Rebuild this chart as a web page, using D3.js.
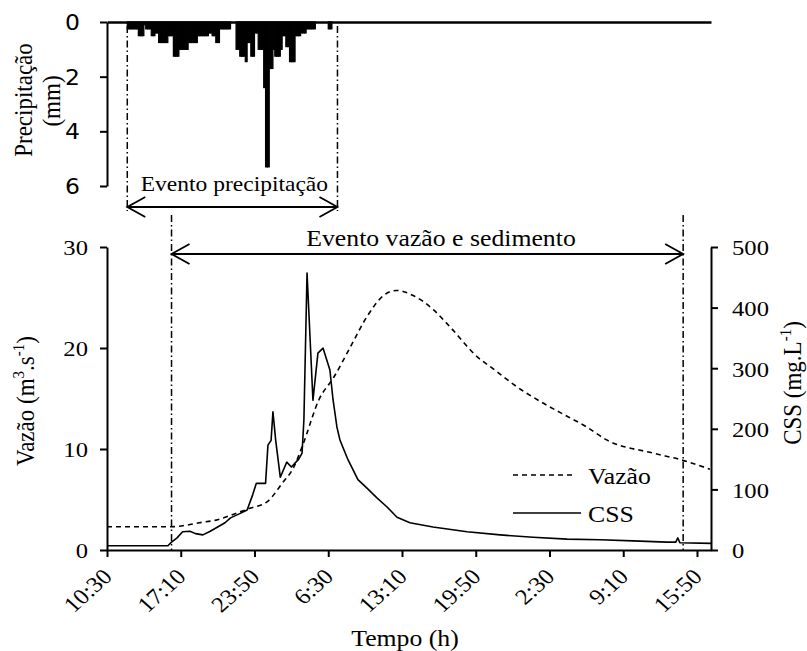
<!DOCTYPE html>
<html><head><meta charset="utf-8">
<script src="https://cdn.jsdelivr.net/npm/d3@7"></script>
<style>body{margin:0;background:#fff} svg{display:block}</style>
</head><body><svg id="c" width="807" height="651"></svg>
<script>
// ---- data (time = minutes elapsed since 10:30) ----
const tickMinutes = [0, 400, 800, 1200, 1600, 2000, 2400, 2800, 3200];
const tickLabels = ["10:30", "17:10", "23:50", "6:30", "13:10", "19:50", "2:30", "9:10", "15:50"];

const flowTime  = [0, 350, 410, 500, 600, 680, 770, 870, 950, 1010, 1060, 1150, 1230, 1320, 1410, 1500, 1570, 1660, 1770, 1860, 2010, 2090, 2220, 2370, 2500, 2600, 2710, 2960, 3120, 3270];
const flowValue = [2.3, 2.3, 2.4, 2.7, 3.0, 3.5, 4.1, 4.8, 6.6, 8.1, 10.3, 14.9, 17.1, 20.1, 23.1, 25.2, 25.7, 25.2, 23.8, 22.1, 19.1, 18.0, 16.2, 14.5, 13.2, 12.2, 10.9, 9.6, 8.9, 8.0];

const cssTime  = [0, 330, 350, 380, 410, 450, 480, 520, 560, 600, 640, 670, 720, 760, 790, 810, 860, 873, 890, 900, 915, 940, 975, 1000, 1040, 1058, 1068, 1085, 1117, 1144, 1172, 1209, 1226, 1247, 1264, 1307, 1361, 1410, 1464, 1519, 1573, 1643, 1768, 1953, 2132, 2311, 2495, 2674, 2853, 3037, 3085, 3096, 3107, 3276];
const cssValue = [7, 7, 13, 20, 30, 31, 27, 25, 31, 38, 45, 53, 60, 66, 91, 110, 110, 173, 181, 228, 181, 120, 145, 137, 150, 160, 215, 457, 247, 325, 333, 297, 248, 203, 181, 149, 116, 102, 86, 71, 54, 45, 38, 30, 25, 21, 18, 17, 15, 13, 13, 20, 12, 11];

const rainStart = 110;   // first 10-min bin
const rainStep = 10;
const rainValue = [
  0.25,0.25,0.25,0.25,0.25,0.25, 0.5,0.5,0.5, 0.1, 0.25,0.25,0.25, 0.5,0.5, 0.4,0.4,
  0.75,0.75,0.75,0.75,0.75, 0.5,0.5,0.5, 1.25,1.25,1.25, 1.0,1.0,1.0,1.0,1.0,
  0.75,0.75,0.75,0.75,0.75, 0.5,0.5,0.5,0.5,0.5,0.5, 0.4,0.4, 0.5,0.5, 0.75,0.75,
  0.25,0.25,0.25,0.25,0.25,0.25, 0,0,0, 1.0,1.0, 1.25,1.25,1.25, 1.45, 0.75,0.75,
  1.25,1.25, 0.4,0.4, 1.0,1.0,1.0, 2.4, 5.3,5.3, 1.7,1.7, 1.0, 1.25,1.25,1.25, 1.0,
  0.5,0.5, 0.9,0.9, 1.45,1.45,1.45, 0.5,0.5,0.5, 0.4,0.4,0.4, 0.25,0.25,0.25,0.25,0.25,
  0,0,0,0,0,0,0, 0.25,0.25, 0
];
const rainEvent = [110, 1250];
const flowEvent = [350, 3125];
const flowTicks = [0, 10, 20, 30];
const cssTicks = [0, 100, 200, 300, 400, 500];
const rainTicks = [0, 2, 4, 6];

// ---- setup ----
const SX = 1.12;
const serif = "'Liberation Serif','Times New Roman',serif";
const sans = "'DejaVu Sans','Liberation Sans',sans-serif";
const svg = d3.select("#c");

const x = d3.scaleLinear().domain([0, 3276]).range([107, 711]);
const yL = d3.scaleLinear().domain([0, 30]).range([550, 247]);
const yR = d3.scaleLinear().domain([0, 500]).range([550, 247]);
const yP = d3.scaleLinear().domain([0, 6]).range([22, 186]);

function addText(parent, px, py, rot, str, size, anchor, family) {
  return parent.append("text")
    .attr("transform", `translate(${px},${py}) scale(${SX},1) rotate(${rot})`)
    .attr("text-anchor", anchor)
    .attr("font-family", family || serif)
    .attr("font-size", size)
    .attr("fill", "#000")
    .text(str);
}
function styleAxis(g) {
  g.attr("font-family", serif).attr("font-size", 22);
  g.selectAll(".domain").attr("stroke", "#000").attr("stroke-width", 2);
  g.selectAll(".tick line").attr("stroke", "#000").attr("stroke-width", 2);
  g.selectAll(".tick text").attr("fill", "#000");
}

// ---- precipitation panel ----
const rainBins = rainValue.map((v, i) => ({t0: rainStart + i * rainStep, t1: rainStart + (i + 1) * rainStep, v}));
svg.append("g").selectAll("rect").data(rainBins.filter(d => d.v > 0)).join("rect")
  .attr("x", d => x(d.t0))
  .attr("width", d => x(d.t1) - x(d.t0))
  .attr("y", yP(0))
  .attr("height", d => yP(d.v) - yP(0))
  .attr("fill", "#000").attr("stroke", "#000").attr("stroke-width", 1.2);

const gTop = svg.append("g").attr("transform", `translate(0,${yP(0)})`)
  .call(d3.axisBottom(x).tickValues([]).tickSizeOuter(0));
gTop.selectAll(".domain").attr("stroke", "#000").attr("stroke-width", 2.6);

const gP = svg.append("g").attr("transform", `translate(${x(0)},0)`)
  .call(d3.axisLeft(yP).tickValues(rainTicks).tickFormat(d3.format("d")).tickSize(7).tickSizeOuter(0));
styleAxis(gP);
gP.attr("font-family", sans).attr("font-size", 21);
gP.selectAll(".tick text").attr("x", null).attr("dy", "0.36em")
  .attr("transform", `translate(-27,0) scale(${SX},1)`);

// ---- main axes ----
const gX = svg.append("g").attr("transform", `translate(0,${yL(0)})`)
  .call(d3.axisBottom(x).tickValues(tickMinutes).tickFormat((d, i) => tickLabels[i]).tickSize(7).tickSizeOuter(0));
styleAxis(gX);
gX.selectAll(".tick text").attr("y", null).attr("dy", null).attr("x", null)
  .attr("text-anchor", "end")
  .attr("transform", `translate(6,28) scale(${SX},1) rotate(-45)`);

const gL = svg.append("g").attr("transform", `translate(${x(0)},0)`)
  .call(d3.axisLeft(yL).tickValues(flowTicks).tickFormat(d3.format("d")).tickSize(7).tickSizeOuter(0));
styleAxis(gL);
gL.selectAll(".tick text").attr("x", null).attr("dy", "0.36em")
  .attr("transform", `translate(-19,0) scale(${SX},1)`);

const gR = svg.append("g").attr("transform", `translate(${x(3276)},0)`)
  .call(d3.axisRight(yR).tickValues(cssTicks).tickFormat(d3.format("d")).tickSize(7).tickSizeOuter(0));
styleAxis(gR);
gR.selectAll(".tick text").attr("x", null).attr("dy", "0.36em")
  .attr("transform", `translate(21,0) scale(${SX},1)`);

// ---- series ----
const flowData = flowTime.map((t, i) => ({t, v: flowValue[i]}));
const cssData = cssTime.map((t, i) => ({t, v: cssValue[i]}));

svg.append("path").datum(flowData)
  .attr("d", d3.line().x(d => x(d.t)).y(d => yL(d.v)).curve(d3.curveMonotoneX))
  .attr("fill", "none").attr("stroke", "#000").attr("stroke-width", 1.6)
  .attr("stroke-dasharray", "5,4");

svg.append("path").datum(cssData)
  .attr("d", d3.line().x(d => x(d.t)).y(d => yR(d.v)))
  .attr("fill", "none").attr("stroke", "#000").attr("stroke-width", 1.6)
  .attr("stroke-linejoin", "round");

// ---- event annotations ----
const ann = svg.append("g").attr("stroke", "#000").attr("fill", "none");
function vline(t, y0, y1) {
  ann.append("line").attr("x1", x(t)).attr("x2", x(t)).attr("y1", y0).attr("y2", y1)
    .attr("stroke-width", 1.5).attr("stroke-dasharray", "7,3,1.5,3");
}
function darrow(t0, t1, y) {
  const a = x(t0), b = x(t1);
  ann.append("line").attr("x1", a).attr("x2", b).attr("y1", y).attr("y2", y).attr("stroke-width", 1.8);
  ann.append("path").attr("d", `M${a + 18},${y - 10}L${a},${y}L${a + 18},${y + 10}`).attr("stroke-width", 1.8);
  ann.append("path").attr("d", `M${b - 18},${y - 10}L${b},${y}L${b - 18},${y + 10}`).attr("stroke-width", 1.8);
}
vline(rainEvent[0], 26, 211);
vline(rainEvent[1], 26, 211);
darrow(rainEvent[0], rainEvent[1], 207);
vline(flowEvent[0], 215, 550);
vline(flowEvent[1], 215, 550);
darrow(flowEvent[0], flowEvent[1], 254);

addText(svg, (x(rainEvent[0]) + x(rainEvent[1])) / 2 + 2, 191, 0, "Evento precipitação", 21, "middle");
addText(svg, 441, 246, 0, "Evento vazão e sedimento", 23, "middle");

// ---- legend ----
svg.append("line").attr("x1", 513).attr("x2", 573).attr("y1", 475).attr("y2", 475)
  .attr("stroke", "#000").attr("stroke-width", 1.6).attr("stroke-dasharray", "5,4");
addText(svg, 588, 484, 0, "Vazão", 23, "start");
svg.append("line").attr("x1", 513).attr("x2", 581).attr("y1", 513).attr("y2", 513)
  .attr("stroke", "#000").attr("stroke-width", 1.6);
addText(svg, 588, 522, 0, "CSS", 23, "start");

// ---- axis titles ----
addText(svg, 405, 646, 0, "Tempo (h)", 23, "middle");

const tV = addText(svg, 34, 401, -90, "", 23, "middle");
tV.append("tspan").text("Vazão (m");
tV.append("tspan").attr("font-size", 15).attr("dy", -9).text("3");
tV.append("tspan").attr("dy", 9).text(".s");
tV.append("tspan").attr("font-size", 15).attr("dy", -9).text("-1");
tV.append("tspan").attr("dy", 9).text(")");

const tC = addText(svg, 801, 383, -90, "", 23, "middle");
tC.append("tspan").text("CSS (mg.L");
tC.append("tspan").attr("font-size", 15).attr("dy", -9).text("-1");
tC.append("tspan").attr("dy", 9).text(")");

addText(svg, 32, 100, -90, "Precipitação", 23, "middle");
addText(svg, 60, 101, -90, "(mm)", 23, "middle");
</script>
</body></html>
